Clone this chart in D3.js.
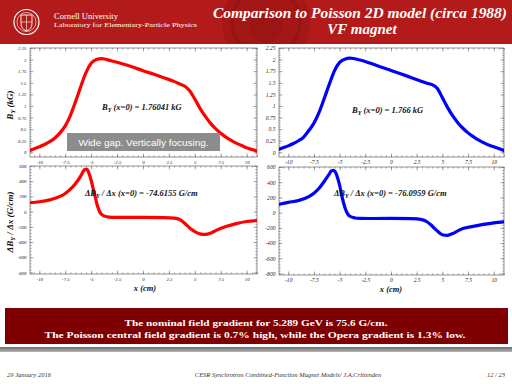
<!DOCTYPE html>
<html>
<head>
<meta charset="utf-8">
<script src="https://cdn.jsdelivr.net/npm/d3@7"></script>
<style>
body { margin: 0; background: #fff; }
svg text { font-family: "Liberation Serif", "Times New Roman", serif; }
</style>
</head>
<body>
<svg id="vimage" width="512" height="384"></svg>
<script>
//---------------------------------------- data ---------------------------------------
var byX = [-10.9, -10, -9.5, -9, -8.5, -8, -7.5, -7, -6.5, -6, -5.5, -5, -4.5, -4, -3, -2, -1, 0, 1, 2, 3, 3.5, 4, 4.5, 5, 5.5, 6, 6.5, 7, 7.5, 8, 8.5, 9, 9.5, 10, 11];
// Opera (left, red) and Poisson (right, blue), kG
var byOpera   = [0.04, 0.12, 0.17, 0.23, 0.31, 0.42, 0.57, 0.80, 1.10, 1.42, 1.72, 1.92, 2.00, 2.02, 1.97, 1.91, 1.84, 1.76, 1.69, 1.61, 1.53, 1.48, 1.43, 1.33, 1.15, 0.95, 0.78, 0.63, 0.51, 0.41, 0.33, 0.26, 0.20, 0.15, 0.10, 0.03];
var byPoisson = [0.07, 0.14, 0.19, 0.25, 0.33, 0.47, 0.63, 0.86, 1.16, 1.47, 1.76, 1.94, 2.01, 2.03, 1.99, 1.92, 1.84, 1.766, 1.69, 1.61, 1.53, 1.49, 1.46, 1.38, 1.18, 0.97, 0.79, 0.64, 0.52, 0.42, 0.34, 0.27, 0.21, 0.16, 0.12, 0.04];

var gradX = [-10.9, -10, -9, -8, -7.5, -7, -6.5, -6, -5.8, -5.6, -5.4, -5.2, -5, -4.8, -4.6, -4.4, -4.2, -4, -3.5, -3, -2, 0, 2, 3, 3.5, 4, 4.5, 5, 5.5, 6, 6.5, 7, 8, 9, 10, 11];
// G/cm
var gradOpera   = [117, 130, 155, 200, 239, 295, 370, 470, 520, 557, 555, 500, 413, 300, 190, 80, 5, -35, -68, -75, -76, -75, -78, -85, -100, -150, -215, -262, -292, -300, -285, -250, -196, -157, -130, -117];
var gradPoisson = [110, 135, 160, 210, 255, 320, 410, 510, 550, 557, 530, 460, 360, 230, 120, 35, -20, -48, -70, -76, -77, -76, -80, -92, -120, -175, -240, -290, -298, -275, -240, -210, -180, -155, -135, -122];

var xTicks = [-10, -7.5, -5, -2.5, 0, 2.5, 5, 7.5, 10];
var byTicks = [0, 0.25, 0.5, 0.75, 1, 1.25, 1.5, 1.75, 2, 2.25];
var gradTicks = [-800, -600, -400, -200, 0, 200, 400, 600];

var svg = d3.select("#vimage");

//---------------------------------------- header ---------------------------------------
var defs = svg.append("defs");
var sep = defs.append("linearGradient").attr("id", "sep").attr("x1", 0).attr("y1", 0).attr("x2", 0).attr("y2", 1);
sep.append("stop").attr("offset", "0%").attr("stop-color", "#6d6d6d");
sep.append("stop").attr("offset", "100%").attr("stop-color", "#b5b5b5");

svg.append("rect").attr("x", 0).attr("y", 0).attr("width", 512).attr("height", 44).style("fill", "#b31b1b");

// faded seal in the band
svg.append("clipPath").attr("id", "bandclip")
    .append("rect").attr("x", 0).attr("y", 0).attr("width", 512).attr("height", 44);
var seal = svg.append("g").attr("clip-path", "url(#bandclip)");
seal.append("circle").attr("cx", 266).attr("cy", 22).attr("r", 44).style("fill", "#a41717");
seal.append("circle").attr("cx", 266).attr("cy", 22).attr("r", 34).style("fill", "none").style("stroke", "#961414").style("stroke-width", 3);
seal.append("circle").attr("cx", 266).attr("cy", 26).attr("r", 16).style("fill", "#9c1515");

// logo
svg.append("circle").attr("cx", 26.5).attr("cy", 22).attr("r", 12.5).style("fill", "none").style("stroke", "#fff").style("stroke-width", 1.2);
svg.append("circle").attr("cx", 26.5).attr("cy", 22).attr("r", 9.5).style("fill", "none").style("stroke", "#fff").style("stroke-width", 0.6);
svg.append("path").attr("d", "M21,15 L32,15 L32,23 Q32,29 26.5,31 Q21,29 21,23 Z").style("fill", "none").style("stroke", "#fff").style("stroke-width", 0.9);
svg.append("path").attr("d", "M26.5,15 L26.5,31 M21,22 L32,22").style("stroke", "#fff").style("stroke-width", 0.6);

svg.append("text").attr("x", 54).attr("y", 18.5).text("Cornell University")
    .attr("textLength", 64).attr("lengthAdjust", "spacingAndGlyphs")
    .style("fill", "#fff").style("font-size", "7.5px");
svg.append("text").attr("x", 54).attr("y", 27).text("Laboratory for Elementary-Particle Physics")
    .attr("textLength", 143).attr("lengthAdjust", "spacingAndGlyphs")
    .style("fill", "#fff").style("font-size", "7px");

svg.append("text").attr("x", 360).attr("y", 17.5).attr("text-anchor", "middle")
    .text("Comparison to Poisson 2D model (circa 1988)")
    .attr("textLength", 294).attr("lengthAdjust", "spacingAndGlyphs")
    .style("fill", "#fff").style("font-size", "15px").style("font-weight", "bold").style("font-style", "italic");
svg.append("text").attr("x", 362).attr("y", 33.5).attr("text-anchor", "middle")
    .text("VF magnet")
    .style("fill", "#fff").style("font-size", "15px").style("font-weight", "bold").style("font-style", "italic");

//---------------------------------------- panels ---------------------------------------
function range(a, b, step) {
    var out = [];
    for (var v = a; v <= b + 1e-9; v += step) out.push(Math.round(v * 1000) / 1000);
    return out;
}

function drawPanel(p) {
    var x = d3.scaleLinear().domain([-10.9, 11.0]).range([p.left, p.right]);
    var y = d3.scaleLinear().domain(p.yDomain).range([p.bottom, p.top]);
    var g = svg.append("g");
    var fs = p.fontSize + "px";

    // minor ticks on all four sides
    var xMinor = range(-10.5, 11, 0.5);
    var yMinor = range(p.yMinor[0], p.yMinor[1], p.yMinor[2]);
    g.append("g").attr("transform", "translate(0," + p.bottom + ")")
        .call(d3.axisBottom(x).tickValues(xMinor).tickSize(-1.6).tickFormat(""));
    g.append("g").attr("transform", "translate(0," + p.top + ")")
        .call(d3.axisTop(x).tickValues(xMinor).tickSize(-1.6).tickFormat(""));
    g.append("g").attr("transform", "translate(" + p.left + ",0)")
        .call(d3.axisLeft(y).tickValues(yMinor).tickSize(-1.6).tickFormat(""));
    g.append("g").attr("transform", "translate(" + p.right + ",0)")
        .call(d3.axisRight(y).tickValues(yMinor).tickSize(-1.6).tickFormat(""));

    // major ticks + labels
    g.append("g").attr("transform", "translate(0," + p.bottom + ")")
        .call(d3.axisBottom(x).tickValues(xTicks).tickSize(-3.5).tickPadding(p.xPad).tickFormat(function(d) { return d; }));
    g.append("g").attr("transform", "translate(0," + p.top + ")")
        .call(d3.axisTop(x).tickValues(xTicks).tickSize(-3.5).tickFormat(""));
    g.append("g").attr("transform", "translate(" + p.left + ",0)")
        .call(d3.axisLeft(y).tickValues(p.yTicks).tickSize(-3.5).tickPadding(3.5).tickFormat(function(d) { return d; }));
    g.append("g").attr("transform", "translate(" + p.right + ",0)")
        .call(d3.axisRight(y).tickValues(p.yTicks).tickSize(-3.5).tickFormat(""));

    g.selectAll(".domain").remove();
    g.selectAll("line").style("stroke", "#555").style("stroke-width", 0.5);
    g.selectAll("text")
        .style("font-family", "'Liberation Serif', serif")
        .style("font-style", "italic")
        .style("font-size", fs)
        .style("fill", "#222");

    g.append("rect")
        .attr("x", p.left).attr("y", p.top)
        .attr("width", p.right - p.left).attr("height", p.bottom - p.top)
        .style("fill", "none").style("stroke", "#666").style("stroke-width", 0.7);

    var clipId = "clip" + p.id;
    svg.append("clipPath").attr("id", clipId)
        .append("rect").attr("x", p.left).attr("y", p.top - 2)
        .attr("width", p.right - p.left).attr("height", p.bottom - p.top + 4);

    var pts = p.xs.map(function(d, i) { return [d, p.ys[i]]; });
    var line = d3.line()
        .x(function(d) { return x(d[0]); })
        .y(function(d) { return y(d[1]); })
        .curve(d3.curveMonotoneX);

    g.append("path")
        .datum(pts)
        .attr("clip-path", "url(#" + clipId + ")")
        .attr("d", line)
        .style("fill", "none")
        .style("stroke", p.color)
        .style("stroke-width", 3.2)
        .style("stroke-linecap", "round");

    return g;
}

drawPanel({id: "tl", left: 30, right: 257, top: 48, bottom: 157, yDomain: [-0.1, 2.25],
    yTicks: byTicks, yMinor: [0, 2.25, 0.05], xs: byX, ys: byOpera, color: "#ff0000",
    fontSize: 4.8, xPad: 3.5});
drawPanel({id: "tr", left: 279, right: 504, top: 48, bottom: 157, yDomain: [-0.1, 2.25],
    yTicks: byTicks, yMinor: [0, 2.25, 0.05], xs: byX, ys: byPoisson, color: "#0000ff",
    fontSize: 5.6, xPad: 3.5});
drawPanel({id: "bl", left: 30, right: 257, top: 166, bottom: 274, yDomain: [-820, 600],
    yTicks: gradTicks, yMinor: [-800, 600, 40], xs: gradX, ys: gradOpera, color: "#ff0000",
    fontSize: 4.8, xPad: 4});
drawPanel({id: "br", left: 279, right: 504, top: 167, bottom: 275, yDomain: [-820, 600],
    yTicks: gradTicks, yMinor: [-800, 600, 40], xs: gradX, ys: gradPoisson, color: "#0000ff",
    fontSize: 5.6, xPad: 3});

//---------------------------------------- annotations ---------------------------------------
function boldItalic(sel, size) {
    return sel.style("font-size", size + "px").style("font-weight", "bold").style("font-style", "italic").style("fill", "#111");
}

function byLabel(xp, yp, value) {
    var t = boldItalic(svg.append("text").attr("x", xp).attr("y", yp), 8.5);
    t.append("tspan").text("B");
    t.append("tspan").attr("dy", 2).style("font-size", "6px").text("Y");
    t.append("tspan").attr("dy", -2).text(" (x=0) = " + value);
}
byLabel(102, 110, "1.76041 kG");
byLabel(352, 113, "1.766 kG");

function gradLabel(xp, yp, value) {
    var t = boldItalic(svg.append("text").attr("x", xp).attr("y", yp), 8.5);
    t.append("tspan").text("\u0394B");
    t.append("tspan").attr("dy", 2).style("font-size", "6px").text("Y");
    t.append("tspan").attr("dy", -2).text(" / \u0394x (x=0) = " + value);
}
gradLabel(85, 196, "-74.6155 G/cm");
gradLabel(334, 196, "-76.0959 G/cm");

// y titles
var yt1 = boldItalic(svg.append("text").attr("transform", "translate(13,105) rotate(-90)").attr("text-anchor", "middle"), 9);
yt1.append("tspan").text("B");
yt1.append("tspan").attr("dy", 2).style("font-size", "6.5px").text("Y");
yt1.append("tspan").attr("dy", -2).text(" (kG)");

var yt2 = boldItalic(svg.append("text").attr("transform", "translate(13,222) rotate(-90)").attr("text-anchor", "middle"), 9);
yt2.append("tspan").text("\u0394B");
yt2.append("tspan").attr("dy", 2).style("font-size", "6.5px").text("Y");
yt2.append("tspan").attr("dy", -2).text(" / \u0394x (G/cm)");

// x titles
boldItalic(svg.append("text").attr("x", 145).attr("y", 291).attr("text-anchor", "middle").text("x (cm)"), 8.5);
boldItalic(svg.append("text").attr("x", 391).attr("y", 292).attr("text-anchor", "middle").text("x (cm)"), 8.5);

// gray note box
svg.append("rect").attr("x", 67).attr("y", 133).attr("width", 153).attr("height", 18).style("fill", "#8c8c8c");
svg.append("text").attr("x", 143.5).attr("y", 145.5).attr("text-anchor", "middle")
    .text("Wide gap. Vertically focusing.")
    .attr("textLength", 130).attr("lengthAdjust", "spacingAndGlyphs")
    .style("font-family", "'Liberation Sans', Arial, sans-serif")
    .style("font-size", "9.5px").style("fill", "#fff");

//---------------------------------------- banner + footer ---------------------------------------
svg.append("rect").attr("x", 5).attr("y", 308).attr("width", 503).attr("height", 36).style("fill", "#7f0000");
svg.append("text").attr("x", 256).attr("y", 326).attr("text-anchor", "middle")
    .text("The nominal field gradient for 5.289 GeV is 75.6 G/cm.")
    .attr("textLength", 263).attr("lengthAdjust", "spacingAndGlyphs")
    .style("fill", "#fff").style("font-size", "9px").style("font-weight", "bold");
svg.append("text").attr("x", 255).attr("y", 338).attr("text-anchor", "middle")
    .text("The Poisson central field gradient is 0.7% high, while the Opera gradient is 1.3% low.")
    .attr("textLength", 421).attr("lengthAdjust", "spacingAndGlyphs")
    .style("fill", "#fff").style("font-size", "9px").style("font-weight", "bold");

svg.append("rect").attr("x", 0).attr("y", 347).attr("width", 512).attr("height", 5).style("fill", "url(#sep)");

var foot = [
    {t: "29 January 2016", x: 7, a: "start"},
    {t: "CESR Synchrotron Combined-Function Magnet Models/ J.A.Crittenden", x: 288, a: "middle"},
    {t: "12 / 23", x: 505, a: "end"}
];
svg.selectAll(".foot").data(foot).enter().append("text")
    .attr("class", "foot")
    .attr("x", function(d) { return d.x; })
    .attr("y", 377)
    .attr("text-anchor", function(d) { return d.a; })
    .text(function(d) { return d.t; })
    .style("font-size", "6.5px").style("font-style", "italic").style("fill", "#333");
</script>
</body>
</html>
